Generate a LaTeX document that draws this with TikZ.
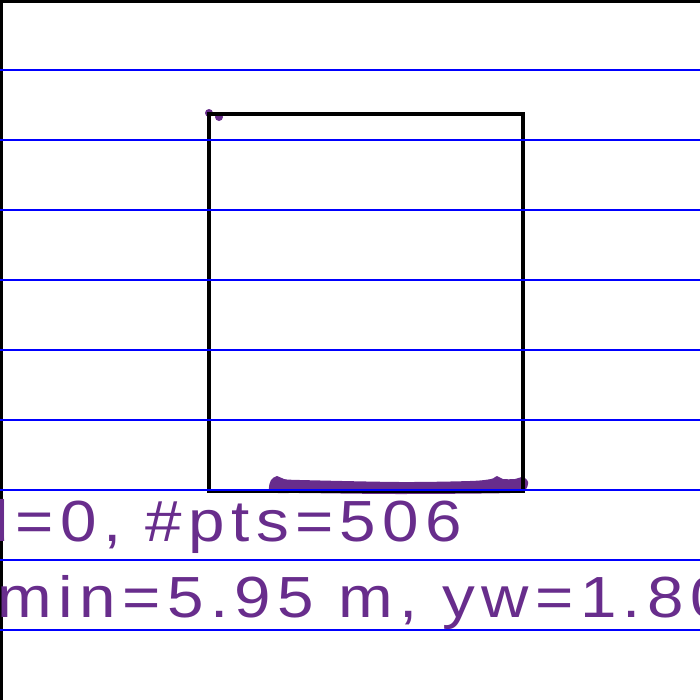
\documentclass[tikz,border=0pt]{standalone}
\usepackage{fontspec}
\usepackage{xcolor}
\newfontfamily\plotfont[LetterSpace=11, FakeStretch=1.13]{Liberation Sans}
\definecolor{ptpurple}{RGB}{104,45,140}

\begin{document}
\begin{tikzpicture}[x=0.01cm, y=-0.01cm]
	\useasboundingbox (0,0) rectangle (700,700);
	\clip (0,0) rectangle (700,700);
	% Fondo blanco
	\fill[white] (0,0) rectangle (700,700);
	% Marco (solo bordes superior e izquierdo)
	\draw[black, line width=1.1pt] (1,700) -- (1,1) -- (700,1);
	% Nube de puntos (abajo)
	\fill[ptpurple] plot[smooth cycle] coordinates {(269,487) (271,480) (277,476) (284,479) (300,480)
		(400,482) (470,481) (491,479) (497,476) (503,479) (515,479) (523,477) (528,482) (525,490)
		(510,493) (400,494) (300,493) (278,493) (270,491)};
	% Puntos sueltos (arriba)
	\fill[ptpurple] (209,113) circle (4);
	\fill[ptpurple] (219,117) circle (4);
	% Rectangulo
	\draw[black, line width=1.05pt] (209,114) rectangle (523,491);
	% Lineas horizontales azules
	\foreach \y in {70,140,...,630}
	\draw[blue, line width=0.35pt] (0,\y) -- (700,\y);
	% Textos
	\node[ptpurple, anchor=base west, inner sep=0pt, font=\plotfont\fontsize{16.5}{18}\selectfont]
		(info) at (-28,541) {d=0, \#pts=506};
	\node[ptpurple, anchor=base west, inner sep=0pt, font=\plotfont\fontsize{16.5}{18}\selectfont]
		(stats) at (-42,617) {ymin=5.95 m, yw=1.80};
\end{tikzpicture}
\end{document}
